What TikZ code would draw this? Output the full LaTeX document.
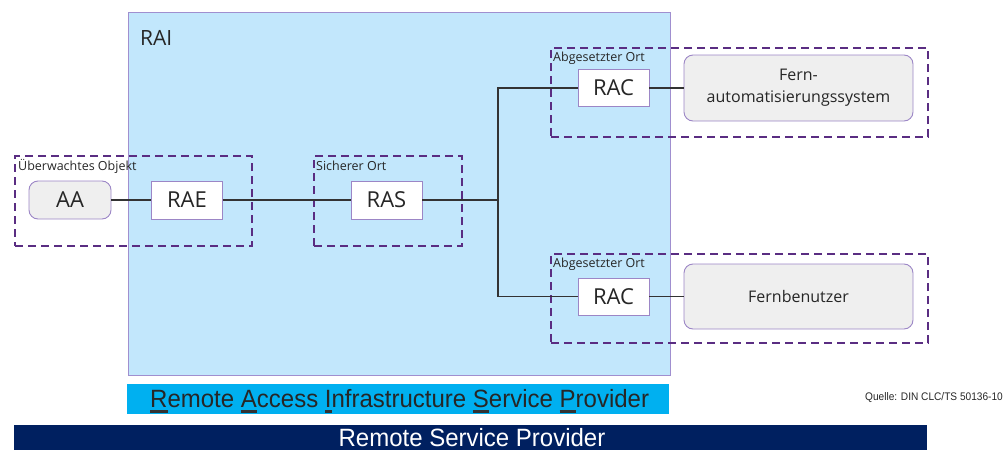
\documentclass[tikz,border=0pt]{standalone}
\usepackage{fontspec}
\setmainfont{Open Sans}
\newfontfamily\narrowfont[FakeStretch=0.96]{Liberation Sans}
\newfontfamily\quellefont[FakeStretch=0.92]{Liberation Sans}
\usetikzlibrary{calc}
\definecolor{raiblue}{HTML}{C2E7FC}
\definecolor{raiborder}{HTML}{A08FCF}
\definecolor{dashpurple}{HTML}{5A2D82}
\definecolor{boxborder}{HTML}{9C86C6}
\definecolor{greyfill}{HTML}{EFEFEF}
\definecolor{cyanbar}{HTML}{00B0F0}
\definecolor{navybar}{HTML}{002060}
\definecolor{linecol}{HTML}{333333}
\newcommand\myul[1]{\setbox0\hbox{#1}\rlap{\color{linecol}\rule[-6pt]{\wd0}{3pt}}#1}
\tikzset{
  zone/.style={draw=dashpurple, line width=2.4pt, dash pattern=on 8pt off 5pt},
  zonelabel/.style={anchor=west, inner sep=0pt, font=\fontsize{12.5}{14}\selectfont, text=black!85},
  unitbox/.style={draw=boxborder, fill=white, line width=0.9pt, minimum width=71pt, minimum height=38pt, inner sep=0pt, font=\fontsize{22}{24}\selectfont, text=black!85},
  endbox/.style={draw=boxborder, fill=greyfill, line width=0.9pt, rounded corners=9pt, inner sep=0pt, align=center, text=black!85},
  conn/.style={draw=linecol, line width=1.6pt},
}
\begin{document}
\begin{tikzpicture}[x=1pt,y=-1pt]
\useasboundingbox (0,0) rectangle (1005,450);
% RAI area
\node[draw=raiborder, fill=raiblue, line width=0.9pt, minimum width=542pt, minimum height=363pt, inner sep=0pt, anchor=north west] (rai) at (128,12) {};
\node[anchor=west, inner sep=0pt, font=\fontsize{21}{24}\selectfont, text=black!85] (railabel) at (140,38) {RAI};
% zones
\node[zone, minimum width=237pt, minimum height=90pt, inner sep=0pt, anchor=north west] (zobj) at (14,155) {};
\node[zonelabel] (lobj) at (18,166) {Überwachtes Objekt};
\node[zone, minimum width=148pt, minimum height=90pt, inner sep=0pt, anchor=north west] (zsich) at (313,155) {};
\node[zonelabel] (lsich) at (316,166) {Sicherer Ort};
\node[zone, minimum width=377pt, minimum height=89pt, inner sep=0pt, anchor=north west] (zab1) at (550,47) {};
\node[zonelabel] (lab1) at (553,58) {Abgesetzter Ort};
\node[zone, minimum width=377pt, minimum height=89pt, inner sep=0pt, anchor=north west] (zab2) at (550,253) {};
\node[zonelabel] (lab2) at (553,264) {Abgesetzter Ort};
% units
\node[endbox, minimum width=82pt, minimum height=38pt, font=\fontsize{22}{24}\selectfont] (aa) at (70,200) {AA};
\node[unitbox] (rae) at (187,200) {RAE};
\node[unitbox] (ras) at (386.5,200) {RAS};
\node[unitbox, minimum height=37pt] (rac1) at (613.5,88) {RAC};
\node[unitbox, minimum height=37pt] (rac2) at (613.5,296.5) {RAC};
\node[endbox, minimum width=229pt, minimum height=66pt, font=\fontsize{16}{22}\selectfont] (fas) at (798.5,88) {Fern-\\automatisierungssystem};
\node[endbox, minimum width=229pt, minimum height=65pt, font=\fontsize{16}{22}\selectfont] (fb) at (798.5,296.5) {Fernbenutzer};
% connectors
\coordinate (j) at (498,200);
\draw[conn] (aa) -- (rae);
\draw[conn] (rae) -- (ras);
\draw[conn] (ras) -- (j);
\draw[conn] (j) |- (rac1.west);
\draw[conn] (j) |- (rac2.west);
\draw[conn] (rac1) -- (fas);
\draw[conn] (rac2) -- (fb);
% bottom bars
\begin{scope}
\node[fill=cyanbar, minimum width=542pt, minimum height=30pt, inner sep=0pt, anchor=north west] (rasp) at (127,384) {};
\clip (127,384) rectangle (669,414);
\node[inner sep=0pt, anchor=base west, font=\narrowfont\fontsize{25}{28}\selectfont, text=black!85] (rasptext) at (150,407) {\myul{R}emote \myul{A}ccess \myul{I}nfrastructure \myul{S}ervice \myul{P}rovider};
\end{scope}
\node[fill=navybar, minimum width=913pt, minimum height=25pt, inner sep=0pt, anchor=north west] (rsp) at (14,425) {};
\node[inner sep=0pt, text depth=0pt, font=\narrowfont\fontsize{25}{28}\selectfont, text=white, anchor=base] (rsptext) at (472,446.5) {Remote Service Provider};
\node[anchor=east, inner sep=0pt, font=\quellefont\fontsize{11}{12}\selectfont, text=black!85] (quelle) at (1003,398) {Quelle: DIN CLC/TS 50136-10};
\end{tikzpicture}
\end{document}
